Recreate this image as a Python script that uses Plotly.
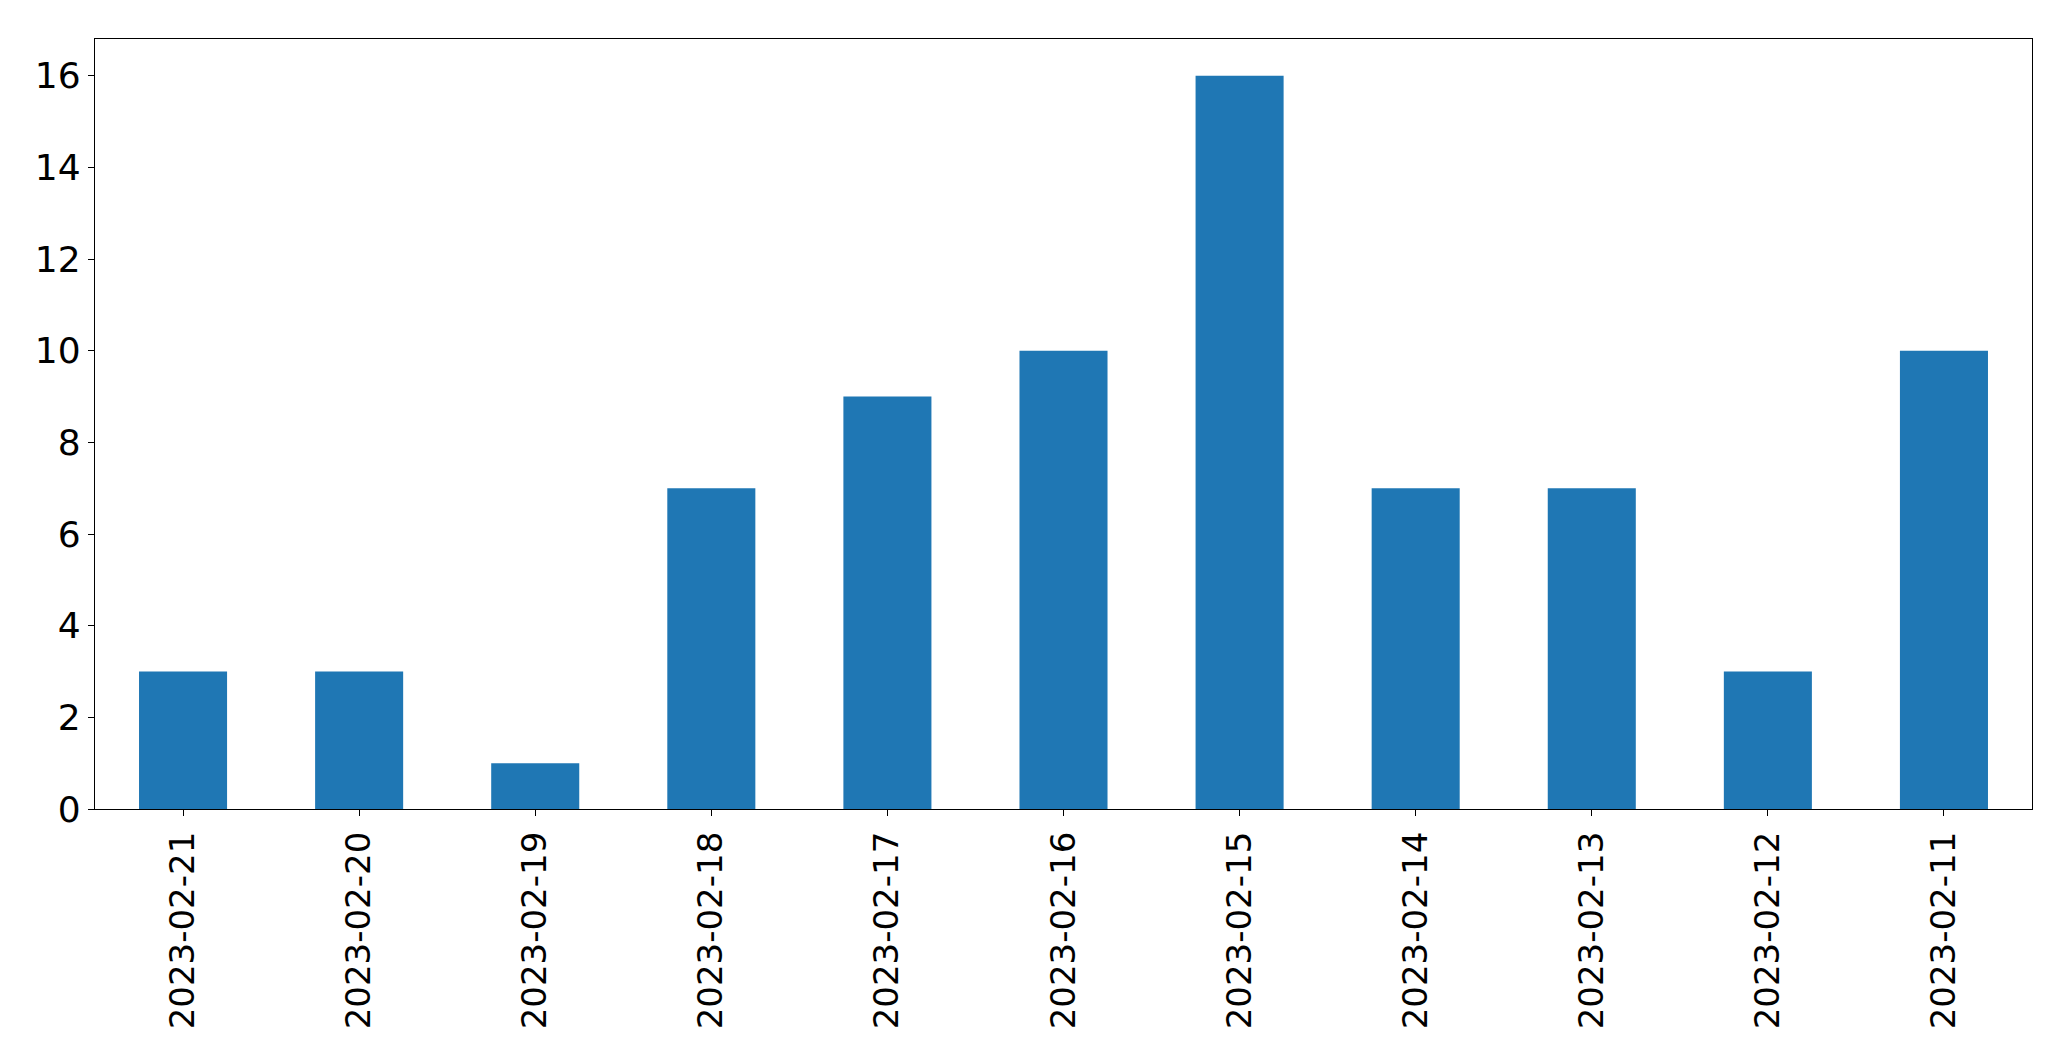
import plotly.graph_objects as go

dates = ["2023-02-21", "2023-02-20", "2023-02-19", "2023-02-18", "2023-02-17",
         "2023-02-16", "2023-02-15", "2023-02-14", "2023-02-13", "2023-02-12",
         "2023-02-11"]
counts = [3, 3, 1, 7, 9, 10, 16, 7, 7, 3, 10]
y_ticks = [0, 2, 4, 6, 8, 10, 12, 14, 16]

fig = go.Figure(go.Bar(x=dates, y=counts, width=0.5, marker=dict(color="#1f77b4", line=dict(width=0))))

axis_common = dict(showline=True, linecolor="black", linewidth=1.3, mirror=True,
                   ticks="outside", ticklen=6, tickwidth=1.3, tickcolor="black",
                   showgrid=False, zeroline=False, automargin=False)

# page body has an 8px default margin, so the figure is sized to fit inside it
fig.update_layout(
    width=2063, height=1053,
    margin=dict(l=87, r=39, t=31, b=252, autoexpand=False),
    plot_bgcolor="white", paper_bgcolor="white",
    showlegend=False,
    xaxis=dict(type="category", range=[-0.5, 10.5], tickangle=-90, ticklabelstandoff=2,
               tickfont=dict(family="DejaVu Sans", size=34, color="black"), **axis_common),
    yaxis=dict(range=[0, 16.8], tickvals=y_ticks, ticklabelstandoff=0,
               tickfont=dict(family="DejaVu Sans", size=36, color="black"), **axis_common),
)

fig.write_html("out.html")
